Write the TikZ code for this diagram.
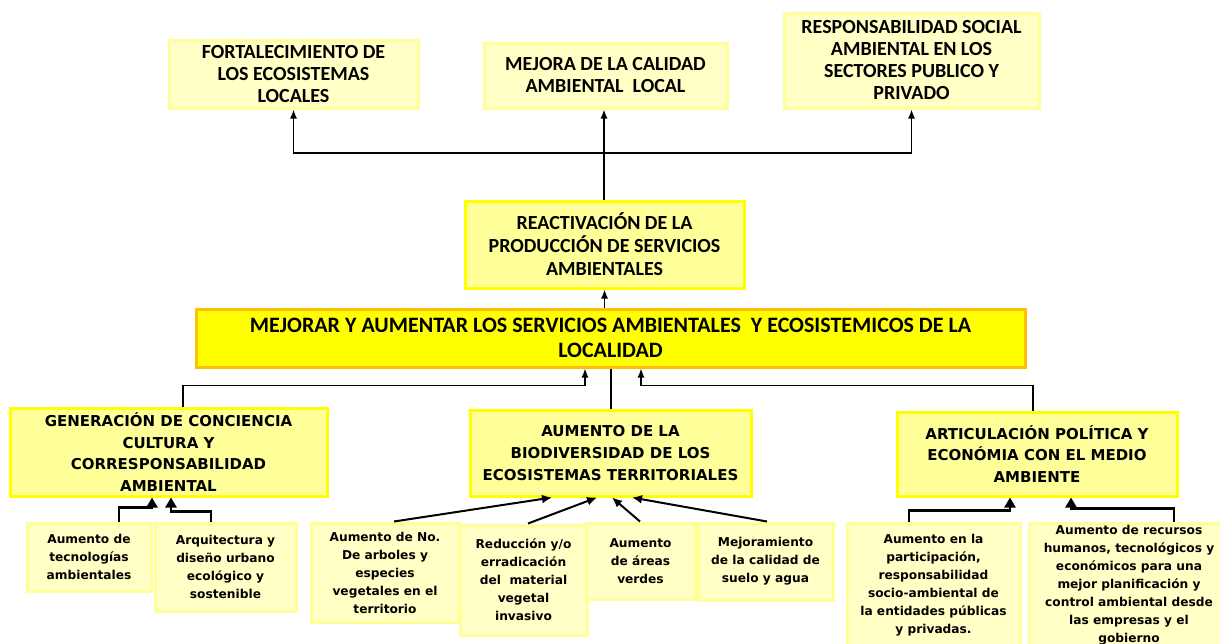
\documentclass[tikz,border=0pt]{standalone}
\usepackage{fontspec}
\newfontfamily\calfont{Carlito}
\newfontfamily\verfont{DejaVu Sans}
\usetikzlibrary{arrows.meta}
\definecolor{paleY}{HTML}{FFFFC6}
\definecolor{paleB}{HTML}{FFFF99}
\definecolor{midY}{HTML}{FFFF99}
\definecolor{brightY}{HTML}{FFFF00}
\definecolor{goldB}{HTML}{FFC000}
\tikzset{
  base/.style={rectangle, align=center, inner sep=0pt, line width=3pt},
  topbox/.style={base, draw=paleB, fill=paleY, font=\calfont\bfseries\fontsize{20}{22}\selectfont},
  reactbox/.style={base, draw=brightY, fill=midY, font=\calfont\bfseries\fontsize{20}{23}\selectfont},
  mainbox/.style={base, draw=goldB, fill=brightY, font=\calfont\bfseries\fontsize{22}{25}\selectfont},
  midbox/.style={base, draw=brightY, fill=midY, font=\verfont\bfseries\fontsize{15}{21.7}\selectfont},
  subbox/.style={base, draw=paleB, fill=paleY, font=\verfont\bfseries\fontsize{12.2}{18}\selectfont},
  toparr/.style={line width=1.3pt, -{Latex[length=9pt,width=7pt]}},
  thickarr/.style={line width=2.6pt, -{Triangle[length=10pt,width=11pt]}},
  midarr/.style={line width=2pt, -{Latex[length=10pt,width=9pt]}},
}
\begin{document}
\begin{tikzpicture}[x=1pt,y=-1pt]
\useasboundingbox (0,0) rectangle (1220,643);
\clip (0,0) rectangle (1220,643);
% top boxes
\node[topbox, minimum width=249, minimum height=68] (fort) at (293.5,74) {FORTALECIMIENTO DE\\LOS ECOSISTEMAS\\LOCALES};
\node[topbox, minimum width=243, minimum height=65] (mejora) at (605.5,75.5) {MEJORA DE LA CALIDAD\\AMBIENTAL\ \ LOCAL};
\node[topbox, minimum width=255, minimum height=95] (resp) at (911.5,60.5) {RESPONSABILIDAD SOCIAL\\AMBIENTAL EN LOS\\SECTORES PUBLICO Y\\PRIVADO};
% reactivation
\node[reactbox, minimum width=279, minimum height=87] (react) at (604.5,244.5) {REACTIVACIÓN DE LA\\PRODUCCIÓN DE SERVICIOS\\AMBIENTALES};
% main objective
\node[mainbox, minimum width=829, minimum height=58] (main) at (610.5,338) {MEJORAR Y AUMENTAR LOS SERVICIOS AMBIENTALES\ \ Y ECOSISTEMICOS DE LA\\LOCALIDAD};
% middle boxes
\node[midbox, minimum width=317, minimum height=88] (gen) at (168.5,452) {GENERACIÓN DE CONCIENCIA\\CULTURA Y\\CORRESPONSABILIDAD\\AMBIENTAL};
\node[midbox, minimum width=281, minimum height=86] (aum) at (610.5,453) {AUMENTO DE LA\\BIODIVERSIDAD DE LOS\\ECOSISTEMAS TERRITORIALES};
\node[midbox, minimum width=280, minimum height=84] (art) at (1037,454) {ARTICULACIÓN POLÍTICA Y\\ECONÓMIA CON EL MEDIO\\AMBIENTE};
% sub boxes
\node[subbox, minimum width=124, minimum height=68] (g1) at (89,557) {Aumento de\\tecnologías\\ambientales};
\node[subbox, minimum width=141, minimum height=88] (g2) at (225.5,567) {Arquitectura y\\diseño urbano\\ecológico y\\sostenible};
\node[subbox, minimum width=148, minimum height=99] (a1) at (385,572.5) {Aumento de No.\\De arboles y\\especies\\vegetales en el\\territorio};
\node[subbox, minimum width=127, minimum height=110] (a2) at (523.5,580) {Reducción y/o\\erradicación\\del\ \ material\\vegetal\\invasivo};
\node[subbox, minimum width=109, minimum height=76] (a3) at (640.5,561) {Aumento\\de áreas\\verdes};
\node[subbox, minimum width=135, minimum height=77] (a4) at (765.5,561.5) {Mejoramiento\\de la calidad de\\suelo y agua};
\node[subbox, minimum width=173, minimum height=124] (r1) at (933.5,585) {Aumento en la\\participación,\\responsabilidad\\socio-ambiental de\\la entidades públicas\\y privadas.};
\node[subbox, minimum width=200, minimum height=124] (r2) at (1129,585) {Aumento de recursos\\humanos, tecnológicos y\\económicos para una\\mejor planificación y\\control ambiental desde\\las empresas y el\\gobierno};
% top connectors
\coordinate (hub) at (604,153);
\draw[line width=1.3pt] (react.north -| hub) -- (hub);
\draw[toparr] (hub) -- (hub |- mejora.south);
\draw[toparr] (hub) -| (fort.south);
\draw[toparr] (hub) -| (resp.south);
% main to reactivation
\draw[toparr] (main.north -| react.south) -- (react.south);
% middle to main
\draw[line width=2pt] (main.south) -- (aum.north);
\draw[toparr] ([xshift=14.5]gen.north) -- ++(0,-21) -| ([xshift=-25.5]main.south);
\draw[toparr] ([xshift=-4]art.north) -- ++(0,-25) -| ([xshift=30.5]main.south);
% subs to gen
\draw[thickarr] ([xshift=30]g1.north) -- ++(0,-14) -| ([xshift=-16.5]gen.south);
\draw[thickarr] ([xshift=-14.5]g2.north) -- ++(0,-10) -| ([xshift=2.5]gen.south);
% subs to aum
\draw[midarr] ([xshift=9]a1.north) -- ([xshift=-58.5]aum.south);
\draw[midarr] ([xshift=4.5]a2.north) -- ([xshift=-13.5]aum.south);
\draw[midarr] ([xshift=-0.5]a3.north) -- ([xshift=1.5]aum.south);
\draw[midarr] ([xshift=1.5]a4.north) -- ([xshift=21.5]aum.south);
% subs to art
\draw[thickarr] ([xshift=-24.5]r1.north) -- ++(0,-11) -| ([xshift=-27]art.south);
\draw[thickarr] ([xshift=45]r2.north) -- ++(0,-13) -| ([xshift=34]art.south);
\end{tikzpicture}
\end{document}
